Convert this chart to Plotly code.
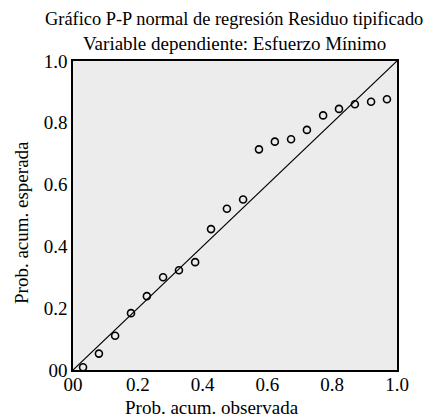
import plotly.graph_objects as go

# Observed cumulative probability (x) and expected cumulative probability (y)
prob_observada = [0.031, 0.080, 0.130, 0.179, 0.228, 0.278, 0.327, 0.377, 0.426, 0.475,
                  0.525, 0.574, 0.623, 0.673, 0.722, 0.772, 0.821, 0.870, 0.920, 0.969]
prob_esperada = [0.009, 0.053, 0.111, 0.184, 0.239, 0.300, 0.323, 0.349, 0.456, 0.522,
                 0.552, 0.714, 0.739, 0.747, 0.777, 0.824, 0.845, 0.860, 0.868, 0.876]
ref_line = [0.0, 1.0]
tick_vals = [0.0, 0.2, 0.4, 0.6, 0.8, 1.0]
tick_text = ["00", "0.2", "0.4", "0.6", "0.8", "1.0"]

FONT = "Liberation Serif, Times New Roman, serif"
W, H = 437, 420
L, R, T, B = 73, 40, 61, 50

fig = go.Figure()
fig.add_trace(go.Scatter(x=ref_line, y=ref_line, mode="lines",
                         line=dict(color="black", width=1.2), hoverinfo="skip",
                         showlegend=False))
fig.add_trace(go.Scatter(x=prob_observada, y=prob_esperada, mode="markers",
                         marker=dict(symbol="circle-open", size=7,
                                     line=dict(color="black", width=1.6), color="black"),
                         cliponaxis=False, showlegend=False))

axis_common = dict(range=[0, 1], tickvals=tick_vals, ticktext=tick_text,
                   showgrid=False, zeroline=False, showline=True, linecolor="black",
                   linewidth=1.5, mirror=True, ticks="",
                   tickfont=dict(family=FONT, size=19, color="black"))


def px_to_paper(px, py):
    return (px - L) / (W - L - R), (H - B - py) / (H - T - B)


annots = [
    ("Gráfico P-P normal de regresión Residuo tipificado", 234, 19, 18.4, 0),
    ("Variable dependiente: Esfuerzo Mínimo", 234, 43, 19, 0),
    ("Prob. acum. observada", 212, 407, 19, 0),
    ("Prob. acum. esperada", 21, 223, 19, -90),
]
annotations = []
for text, px, py, size, ang in annots:
    ax, ay = px_to_paper(px, py)
    annotations.append(dict(text=text, x=ax, y=ay, xref="paper", yref="paper",
                            showarrow=False, textangle=ang,
                            xanchor="center", yanchor="middle",
                            font=dict(family=FONT, size=size, color="black")))

fig.update_layout(
    width=W, height=H,
    margin=dict(l=L, r=R, t=T, b=B),
    paper_bgcolor="white", plot_bgcolor="#ececec",
    font=dict(family=FONT, size=19, color="black"),
    xaxis=dict(**axis_common, ticklabelstandoff=-4),
    yaxis=dict(**axis_common),
    annotations=annotations,
)

fig.write_html("out.html", config={"displayModeBar": False},
               post_script="document.body.style.margin='0';")
